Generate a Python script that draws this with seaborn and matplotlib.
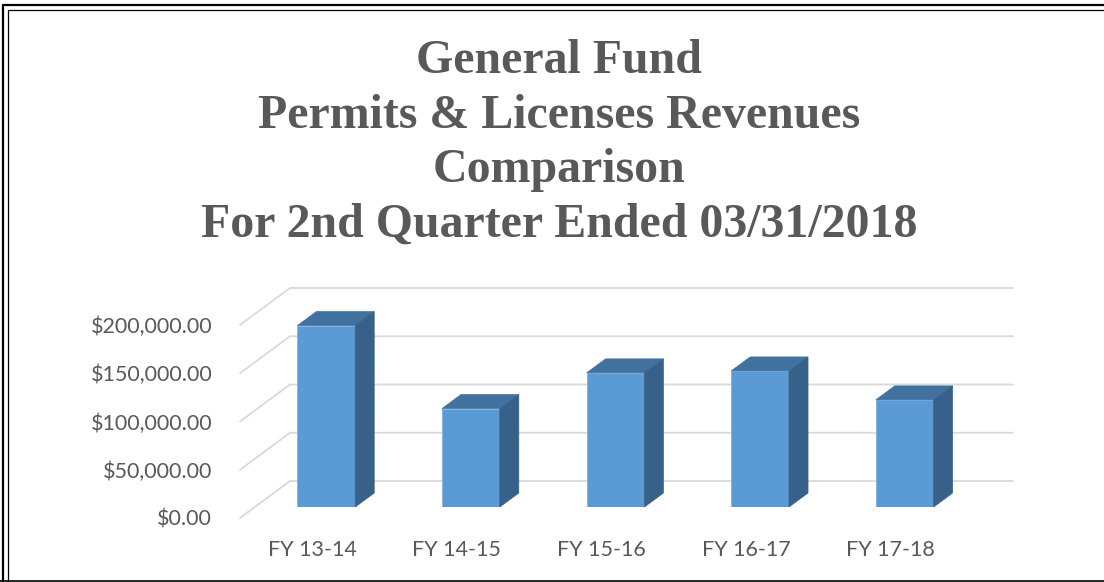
"""
Permits & Licenses revenue comparison – Excel-style 3D column chart
"""
import numpy as np
import matplotlib
matplotlib.use("Agg")
import matplotlib.pyplot as plt
import seaborn as sns
from matplotlib.patches import Polygon
from matplotlib.lines import Line2D
from matplotlib.ticker import StrMethodFormatter
from matplotlib.transforms import ScaledTranslation, IdentityTransform

# ── Data ──────────────────────────────────────────────────────────────────────
years    = ["FY 13-14", "FY 14-15", "FY 15-16", "FY 16-17", "FY 17-18"]
revenues = [188000, 102000, 139000, 141000, 111000]
y_ticks  = [0, 50000, 100000, 150000, 200000]
title = ("General Fund\nPermits & Licenses Revenues\nComparison\n"
         "For 2nd Quarter Ended 03/31/2018")

FRONT, TOP, SIDE = "#5B9BD5", "#41729F", "#386189"
GRID, TEXT = "#D9D9D9", "#595959"

W, H, DPI = 1104, 582, 100

sns.set_style("white")
plt.rcParams["font.family"] = ["Lato", "DejaVu Sans"]

fig = plt.figure(figsize=(W / DPI, H / DPI), dpi=DPI)
# axes = front plane of the bars (pixels: x 254..977, y 507 up by 193)
ax = fig.add_axes([254 / W, (H - 507) / H, 723 / W, 193 / H])

sns.barplot(x=years, y=revenues, color=FRONT, saturation=1, width=0.4,
            ax=ax, zorder=3, edgecolor="#7FB1DF", linewidth=0.6)
ax.set_xlim(-0.5, len(years) - 0.5)
ax.set_ylim(0, y_ticks[-1])
for s in ax.spines.values():
    s.set_visible(False)
ax.set_xlabel("")
ax.set_ylabel("")

# depth offsets in pixels (display, y up)
back  = np.array([36, 26])
front = np.array([-14, -11])
depth = np.array([19, 14])

# ── Walls: gridlines on back wall + diagonals on left wall ───────────────────
ident = IdentityTransform()
x0, x1 = ax.get_xlim()
for v in y_ticks:
    pl = ax.transData.transform((x0, v))
    pr = ax.transData.transform((x1, v))
    xs = [pl[0] + front[0], pl[0] + back[0], pr[0] + back[0]]
    ys = [pl[1] + front[1], pl[1] + back[1], pr[1] + back[1]]
    ax.add_line(Line2D(xs, ys, transform=ident, color=GRID, lw=1.3,
                       zorder=1, clip_on=False))

# ── 3D faces of each bar ─────────────────────────────────────────────────────
for p in ax.patches:
    bx, bw, bh = p.get_x(), p.get_width(), p.get_height()
    tl = ax.transData.transform((bx, bh))
    tr = ax.transData.transform((bx + bw, bh))
    br = ax.transData.transform((bx + bw, 0))
    top = [tl, tr, tr + depth, tl + depth]
    side = [br, tr, tr + depth, br + depth]
    ax.add_patch(Polygon(top, closed=True, transform=ident, facecolor=TOP,
                         edgecolor=TOP, lw=0.5, zorder=3, clip_on=False))
    ax.add_patch(Polygon(side, closed=True, transform=ident, facecolor=SIDE,
                         edgecolor=SIDE, lw=0.5, zorder=3, clip_on=False))

# ── Tick labels on the front edge of floor / left wall ───────────────────────
ax.set_yticks(y_ticks)
ax.yaxis.set_major_formatter(StrMethodFormatter("${x:,.2f}"))
ax.tick_params(axis="y", length=0, pad=20, labelsize=15.5, labelcolor=TEXT)
ax.tick_params(axis="x", length=0, pad=16, labelsize=15.5, labelcolor=TEXT)
off = ScaledTranslation(front[0] / DPI, front[1] / DPI, fig.dpi_scale_trans)
for lab in ax.get_yticklabels() + ax.get_xticklabels():
    lab.set_transform(lab.get_transform() + off)

# ── Title ────────────────────────────────────────────────────────────────────
fig.text(559 / W, 1 - 39 / H, title, ha="center", va="top",
         family=["Liberation Serif", "DejaVu Serif"], fontweight="bold",
         fontsize=34.5, color=TEXT, linespacing=1.31)

# ── Double frame ─────────────────────────────────────────────────────────────
fr = dict(transform=ident, color="black", zorder=10)
fig.add_artist(Line2D([3, 3, W], [H - 581, H - 5, H - 5], lw=1.6, **fr))
fig.add_artist(Line2D([7.5, 7.5, W], [H - 581, H - 9.5, H - 9.5], lw=0.9, **fr))
fig.add_artist(Line2D([0, W], [H - 580.5, H - 580.5], lw=1.2, **fr))

fig.savefig("out.png", dpi=DPI)
